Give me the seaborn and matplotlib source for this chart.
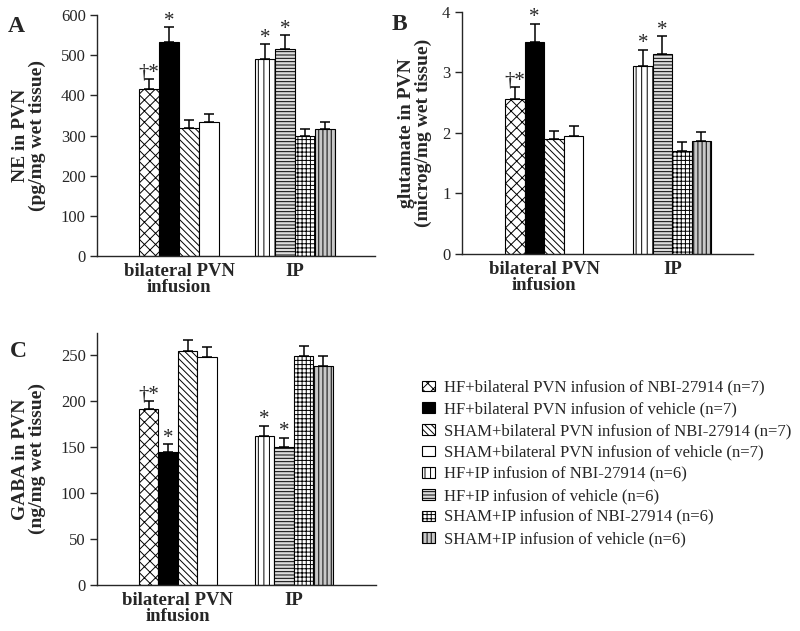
import numpy as np
import pandas as pd
import matplotlib
matplotlib.use('Agg')
import matplotlib.pyplot as plt
from matplotlib.patches import Patch
import seaborn as sns

sns.set_style('ticks')
plt.rcParams['font.family'] = ['Liberation Serif', 'DejaVu Serif']
plt.rcParams['hatch.linewidth'] = 0.7

# groups on the x axis and the four treatments inside each group
routes = ['bilateral PVN\ninfusion', 'IP']
treatments = ['HF+NBI-27914', 'HF+vehicle', 'SHAM+NBI-27914', 'SHAM+vehicle']

legend_labels = [
    'HF+bilateral PVN infusion of NBI-27914 (n=7)',
    'HF+bilateral PVN infusion of vehicle (n=7)',
    'SHAM+bilateral PVN infusion of NBI-27914 (n=7)',
    'SHAM+bilateral PVN infusion of vehicle (n=7)',
    'HF+IP infusion of NBI-27914 (n=6)',
    'HF+IP infusion of vehicle (n=6)',
    'SHAM+IP infusion of NBI-27914 (n=6)',
    'SHAM+IP infusion of vehicle (n=6)',
]

# values in legend order (4 bilateral PVN bars, then 4 IP bars)
ne_mean = [415, 533, 320, 335, 492, 515, 300, 317]
ne_sem = [25, 37, 18, 18, 35, 35, 17, 18]
glu_mean = [2.56, 3.50, 1.89, 1.95, 3.10, 3.30, 1.70, 1.87]
glu_sem = [0.19, 0.30, 0.14, 0.17, 0.27, 0.30, 0.15, 0.15]
gaba_mean = [191, 145, 254, 248, 162, 150, 249, 238]
gaba_sem = [9, 8, 12, 11, 11, 10, 11, 11]

marks = ['†*', '*', '', '', '*', '*', '', '']

# bar looks: facecolor, hatch
styles = [
    ('white', 'xxx'),
    ('black', None),
    ('white', '\\\\\\\\\\'),
    ('white', None),
    ('white', '|||'),
    ('#dddddd', '-----'),
    ('white', '++++'),
    ('#c8c8c8', '||||'),
]

fig = plt.figure(figsize=(8, 6.31), dpi=100)


def panel(rect, mean, sem, ylim, yticks, ylabel, xlim, width, label_x):
    ax = fig.add_axes(rect)
    df = pd.DataFrame({
        'route': [routes[i // 4] for i in range(8)],
        'treatment': [treatments[i % 4] for i in range(8)],
        'value': mean,
    })
    sns.barplot(data=df, x='route', y='value', hue='treatment',
                order=routes, hue_order=treatments, errorbar=None,
                width=width, palette=['white'] * 4, saturation=1,
                edgecolor='black', linewidth=0.8, legend=False, ax=ax)
    bars = sorted(ax.patches, key=lambda p: p.get_x())
    xs, hs = [], []
    for bar, (fc, hatch) in zip(bars, styles):
        bar.set_facecolor(fc)
        bar.set_hatch(hatch)
        bar.set_edgecolor('black')
        xs.append(bar.get_x() + bar.get_width() / 2)
        hs.append(bar.get_height())
    ax.errorbar(xs, hs, yerr=[np.zeros(8), sem], fmt='none', ecolor='black',
                elinewidth=1.1, capsize=3.6, capthick=1.1)
    for x, h, e, m in zip(xs, hs, sem, marks):
        if m:
            ax.annotate(m, (x, h + e), xytext=(0, 1), textcoords='offset points',
                        ha='center', va='baseline', fontsize=15)
    ax.set_xlim(*xlim)
    ax.set_ylim(*ylim)
    ax.set_yticks(yticks)
    ax.set_xlabel('')
    ax.set_ylabel(ylabel, fontsize=14, fontweight='bold', linespacing=1.0)
    ax.yaxis.set_label_coords(label_x, 0.5)
    ax.tick_params(axis='y', labelsize=12, length=5, width=1, pad=3)
    ax.tick_params(axis='x', length=0, pad=5)
    for t in ax.get_xticklabels():
        t.set_fontsize(13.5)
        t.set_fontweight('bold')
        t.set_linespacing(0.9)
    sns.despine(ax=ax)
    for s in ['left', 'bottom']:
        ax.spines[s].set_linewidth(1)
    return ax


panel([0.121, 0.594, 0.348, 0.382], ne_mean, ne_sem, (0, 600),
      np.arange(0, 601, 100), 'NE in PVN\n(pg/mg wet tissue)',
      (-0.71, 1.69), 0.69, -0.182)
panel([0.577, 0.5975, 0.364, 0.384], glu_mean, glu_sem, (0, 4),
      np.arange(0, 5, 1), 'glutamate in PVN\n(microg/mg wet tissue)',
      (-0.647, 1.63), 0.61, -0.102)
panel([0.121, 0.0729, 0.349, 0.3994], gaba_mean, gaba_sem, (0, 274),
      np.arange(0, 251, 50), 'GABA in PVN\n(ng/mg wet tissue)',
      (-0.70, 1.71), 0.675, -0.182)

fig.text(0.01, 0.949, 'A', fontsize=17, fontweight='bold')
fig.text(0.489, 0.952, 'B', fontsize=17, fontweight='bold')
fig.text(0.012, 0.434, 'C', fontsize=17, fontweight='bold')

handles = [Patch(facecolor=fc, edgecolor='black', hatch=h, linewidth=0.8)
           for fc, h in styles]
fig.legend(handles, legend_labels, loc='upper left',
           bbox_to_anchor=(0.5275, 0.398), frameon=False, fontsize=12,
           handlelength=0.8, handleheight=0.6, handletextpad=0.5,
           labelspacing=0.34, borderpad=0, borderaxespad=0)

fig.savefig('out.png', dpi=100)
